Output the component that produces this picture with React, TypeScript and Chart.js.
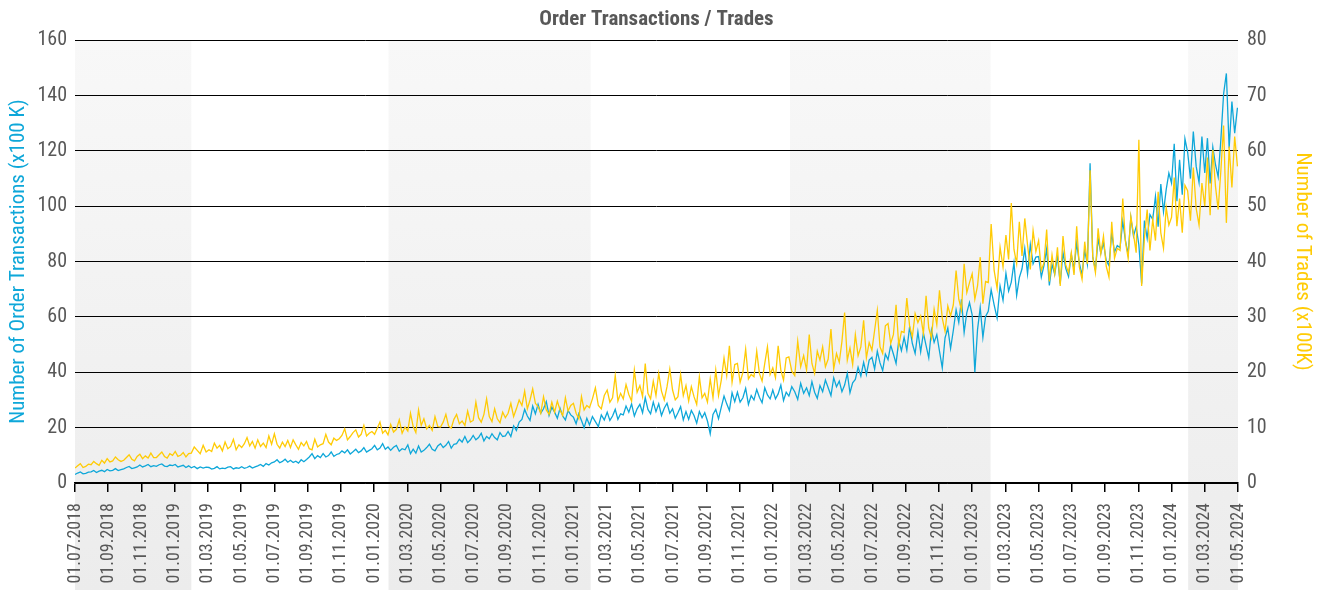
import React, { useEffect, useRef } from "react";
import { Chart, registerables } from "chart.js";

Chart.register(...registerables);

const FONT = "'Roboto Condensed', 'Liberation Sans Narrow', 'DejaVu Sans Condensed', sans-serif";

const START_DATE = "2018-07-01";
const STEP_DAYS = 5;

const X_TICK_LABELS = [
  "01.07.2018", "01.09.2018", "01.11.2018",
  "01.01.2019", "01.03.2019", "01.05.2019", "01.07.2019", "01.09.2019", "01.11.2019",
  "01.01.2020", "01.03.2020", "01.05.2020", "01.07.2020", "01.09.2020", "01.11.2020",
  "01.01.2021", "01.03.2021", "01.05.2021", "01.07.2021", "01.09.2021", "01.11.2021",
  "01.01.2022", "01.03.2022", "01.05.2022", "01.07.2022", "01.09.2022", "01.11.2022",
  "01.01.2023", "01.03.2023", "01.05.2023", "01.07.2023", "01.09.2023", "01.11.2023",
  "01.01.2024", "01.03.2024", "01.05.2024",
];

// Number of Order Transactions (x100 K), every 5 days
const orderTransactions = [
  // 2018 Jul-Dec
  3.1, 3.6, 4.0, 3.3, 3.5, 3.9, 4.0, 4.5, 3.8, 4.3, 4.6, 4.1, 4.9, 4.4, 4.6, 5.2, 4.5, 4.8,
  5.1, 5.6, 6.0, 5.2, 5.5, 5.8, 6.5, 5.8, 6.2, 6.7, 5.9, 6.3, 6.0, 6.6, 6.9, 6.1, 5.9, 6.5, 6.3,
  // 2019
  6.7, 5.8, 6.1, 6.4, 5.6, 6.2, 5.5, 6.0, 5.2, 5.8, 5.4, 5.7, 5.6, 5.0, 5.3, 5.9, 5.1, 5.4,
  5.2, 5.7, 5.9, 5.1, 5.5, 5.3, 5.9, 5.3, 5.6, 6.1, 5.4, 5.8, 6.2, 6.7, 6.0, 7.0, 6.5, 7.3,
  7.6, 8.4, 7.3, 7.8, 8.6, 7.5, 8.2, 7.4, 7.9, 7.2, 8.4, 7.7, 8.5, 9.4, 10.6, 8.8, 9.9, 9.2,
  10.6, 9.4, 9.9, 11.2, 9.6, 10.3, 10.6, 11.6, 10.9, 12.0, 10.5, 11.3, 12.2, 11.0, 11.6, 12.8, 11.2, 11.8, 12.4,
  // 2020
  13.6, 12.0, 12.6, 14.2, 12.2, 13.0, 11.8, 12.9, 13.6, 11.5, 12.4, 12.0, 13.8, 10.6, 12.2, 10.8, 13.4, 11.2,
  11.8, 12.8, 14.0, 12.2, 11.6, 13.4, 14.2, 12.8, 13.6, 15.0, 12.6, 14.0, 14.2, 15.8, 14.8, 16.8, 14.6, 15.6,
  17.2, 15.6, 16.4, 18.0, 15.2, 16.8, 16.0, 17.8, 16.4, 15.6, 18.2, 16.8, 17.0, 18.6, 16.8, 20.6, 19.0, 22.0,
  23.0, 26.6, 24.2, 22.6, 27.8, 25.0, 28.4, 25.2, 26.8, 29.4, 24.4, 27.4, 25.6, 23.4, 27.0, 24.2, 22.8, 26.2, 24.6,
  // 2021
  23.8, 21.4, 25.0, 22.6, 20.0, 23.4, 21.0, 24.0, 22.2, 20.4, 24.6, 22.8, 25.6, 22.6, 24.2, 26.6, 23.0, 25.0,
  24.6, 27.8, 25.6, 28.6, 24.2, 26.8, 28.4, 25.4, 30.8, 26.6, 25.0, 29.2, 25.8, 28.6, 24.4, 27.0, 28.8, 25.2,
  26.8, 23.4, 25.4, 27.6, 22.8, 25.8, 23.0, 26.2, 24.4, 21.6, 25.8, 23.6, 25.4, 22.4, 17.8, 24.8, 26.6, 23.2,
  27.4, 31.4, 28.6, 26.2, 32.6, 29.4, 32.8, 29.2, 30.8, 34.2, 28.4, 31.6, 30.0, 33.8, 31.0, 29.0, 34.4, 31.8, 30.4,
  // 2022
  33.6, 30.4, 32.2, 35.4, 29.8, 32.8, 31.4, 34.8, 33.0, 30.2, 36.0, 32.4, 34.4, 31.6, 36.6, 32.8, 30.6, 35.2,
  33.0, 37.2, 34.4, 31.6, 38.0, 34.8, 36.8, 33.0, 35.4, 39.6, 32.6, 36.2, 37.4, 41.8, 38.6, 43.6, 39.2, 44.4,
  45.4, 41.2, 47.6, 43.4, 40.6, 46.6, 44.6, 49.8, 46.6, 43.2, 51.4, 47.8, 52.6, 48.0, 56.4, 50.4, 46.8, 54.6,
  47.4, 54.2, 49.6, 45.2, 55.2, 50.8, 53.6, 47.6, 41.6, 52.4, 56.0, 48.6, 55.2, 62.6, 58.0, 66.4, 54.4, 61.6, 65.2,
  // 2023
  60.8, 40.0, 55.4, 63.4, 52.6, 60.2, 62.0, 69.8, 64.4, 59.6, 71.2, 66.0, 75.8, 69.4, 72.6, 79.6, 67.8, 74.2,
  77.4, 84.8, 75.6, 86.2, 79.2, 81.6, 81.8, 74.4, 78.6, 84.6, 71.4, 79.0, 75.4, 81.8, 72.0, 83.2, 77.6, 74.6,
  82.6, 77.2, 86.8, 79.4, 75.2, 84.0, 79.0, 115.5, 81.6, 77.0, 88.4, 83.0, 86.8, 80.4, 78.6, 90.4, 83.4, 85.8,
  85.0, 94.6, 87.6, 82.6, 96.0, 89.2, 92.6, 86.0, 72.0, 94.8, 88.4, 97.0, 95.2, 103.6, 92.6, 108.0, 98.0, 106.0, 112.0,
  // 2024 Jan-Apr
  108.4, 122.6, 101.8, 116.8, 104.2, 124.4, 119.6, 110.0, 127.0, 114.4, 108.6, 125.2,
  112.0, 124.6, 108.2, 121.4, 115.0, 110.6, 124.0, 140.6, 148.0, 121.0, 137.8, 126.4, 135.6,
];

// Number of Trades (x100K), every 5 days
const trades = [
  // 2018 Jul-Dec
  2.7, 3.1, 3.5, 2.8, 3.0, 3.4, 3.3, 3.9, 3.5, 3.2, 4.1, 3.6, 4.4, 3.8, 4.0, 4.7, 4.2, 3.9,
  4.1, 4.6, 5.1, 4.3, 4.0, 4.8, 5.2, 4.4, 4.9, 4.5, 5.4, 4.6, 4.6, 5.1, 5.6, 4.8, 4.5, 5.3, 5.0,
  // 2019
  5.7, 4.8, 5.0, 5.5, 4.7, 5.3, 5.4, 6.5, 5.9, 5.3, 6.8, 5.6, 6.0, 5.7, 7.2, 6.3, 6.8, 5.8,
  7.4, 6.2, 6.6, 7.9, 6.0, 6.9, 6.4, 7.1, 8.2, 6.7, 7.5, 6.3, 7.8, 6.6, 7.2, 6.4, 8.5, 7.0,
  8.9, 7.0, 6.3, 7.4, 6.6, 7.7, 6.4, 7.8, 6.9, 6.1, 7.3, 6.7, 7.5, 6.2, 6.0, 7.9, 6.5, 6.9,
  7.1, 8.8, 7.4, 6.9, 8.1, 7.7, 8.0, 8.6, 9.8, 7.8, 8.4, 9.1, 9.6, 8.3, 8.8, 10.4, 8.5, 9.0, 9.3,
  // 2020
  8.8, 9.9, 11.0, 9.0, 9.5, 8.7, 10.6, 9.2, 9.7, 11.4, 9.0, 10.1, 9.4, 12.6, 10.2, 9.1, 13.2, 10.4,
  11.6, 9.8, 10.4, 9.5, 12.0, 10.2, 10.1, 11.0, 12.4, 10.3, 9.9, 11.5, 12.4, 10.7, 11.2, 10.4, 13.0, 11.0,
  11.3, 14.6, 11.8, 11.0, 12.4, 15.2, 12.0, 11.1, 13.4, 11.6, 10.9, 12.8, 11.8, 12.6, 14.4, 12.0, 13.4, 15.0,
  14.0, 16.6, 13.4, 15.0, 17.0, 14.4, 13.8, 12.6, 15.6, 13.2, 12.4, 14.6, 12.8, 14.8, 13.2, 12.2, 15.4, 13.0, 14.0,
  // 2021
  14.4, 12.6, 11.6, 15.6, 13.2, 14.0, 13.6, 15.2, 17.2, 14.0, 13.4, 15.8, 16.8, 14.6, 15.4, 19.4, 14.8, 16.2,
  15.2, 17.8, 16.0, 14.8, 20.4, 16.4, 17.6, 15.6, 21.6, 16.2, 15.2, 18.4, 15.8, 19.8, 16.6, 15.0, 17.4, 20.6,
  16.8, 15.0, 15.6, 19.6, 15.8, 17.6, 14.8, 17.4, 15.6, 14.2, 19.2, 15.4, 16.2, 14.6, 18.8, 15.4, 20.4, 15.8,
  18.6, 22.6, 19.4, 24.8, 18.2, 21.4, 21.6, 18.2, 20.0, 24.2, 18.8, 19.6, 19.2, 23.8, 19.8, 18.4, 21.6, 24.6, 19.6,
  // 2022
  20.8, 19.0, 24.8, 20.4, 18.6, 22.6, 22.8, 20.2, 19.4, 25.6, 21.0, 23.0, 20.4, 26.8, 21.6, 19.8, 23.8, 22.2,
  24.6, 21.0, 22.4, 27.8, 20.6, 23.4, 21.8, 25.6, 30.8, 22.2, 24.4, 21.4, 26.8, 23.0, 24.6, 29.4, 22.6, 25.4,
  24.0, 27.6, 31.2, 24.6, 23.4, 28.4, 28.8, 25.2, 26.8, 32.2, 24.8, 27.4, 27.2, 33.4, 28.4, 26.4, 30.6, 29.0,
  30.2, 27.0, 33.8, 28.0, 26.2, 31.4, 28.6, 34.8, 29.8, 27.4, 32.0, 30.2, 32.2, 38.4, 33.2, 31.2, 39.6, 34.4, 36.2,
  // 2023
  37.8, 33.2, 35.6, 40.8, 32.4, 36.4, 36.2, 46.8, 38.4, 35.2, 42.6, 39.0, 44.8, 40.4, 50.6, 42.2, 39.6, 47.2,
  41.0, 47.8, 43.0, 38.6, 45.6, 41.8, 43.8, 38.4, 39.8, 45.8, 36.4, 41.2, 37.8, 42.6, 35.6, 44.6, 39.4, 38.0,
  41.6, 37.6, 46.4, 39.0, 36.8, 43.6, 39.6, 56.5, 40.8, 38.0, 46.0, 41.4, 44.6, 39.2, 37.2, 47.2, 40.6, 42.4,
  42.0, 51.4, 43.6, 40.6, 48.2, 45.0, 41.6, 62.0, 35.6, 44.2, 49.4, 42.0, 47.6, 43.8, 52.6, 45.2, 42.4, 49.8, 46.6,
  // 2024 Jan-Apr
  48.0, 55.2, 46.4, 51.4, 45.2, 53.8, 52.8, 47.4, 57.0, 49.6, 46.6, 54.2,
  50.0, 58.8, 48.4, 60.2, 53.6, 49.4, 56.4, 64.6, 47.0, 60.8, 53.4, 62.6, 57.2,
];

const SHADED_START = ["2018-07-01", "2020-01-28", "2022-02-02", "2024-02-01"];
const SHADED_END = ["2019-02-01", "2021-02-02", "2023-02-04", "2024-05-01"];

const BLUE = "#0ea7d9";
const YELLOW = "#ffcb05";
const TEXT = "#585858";

function parseDate(s: string): Date {
  const [y, m, d] = s.split("-").map(Number);
  return new Date(Date.UTC(y, m - 1, d));
}

// position in "months since July 2018"
function monthPos(dt: Date): number {
  const y = dt.getUTCFullYear();
  const m = dt.getUTCMonth();
  const d = dt.getUTCDate();
  const dim = new Date(Date.UTC(y, m + 1, 0)).getUTCDate();
  return (y - 2018) * 12 + (m - 6) + (d - 1) / dim;
}

function seriesPoints(values: number[]) {
  const start = parseDate(START_DATE).getTime();
  return values.map((v, i) => ({
    x: monthPos(new Date(start + i * STEP_DAYS * 86400000)),
    y: v,
  }));
}

function labelToPos(label: string): number {
  const [d, m, y] = label.split(".").map(Number);
  return monthPos(new Date(Date.UTC(y, m - 1, d)));
}

const bandsPlugin = {
  id: "bands",
  beforeDraw(chart: any) {
    const { ctx, chartArea, scales } = chart;
    const x = scales.x;
    const bottom = chart.height;
    const grad = ctx.createLinearGradient(0, chartArea.top, 0, bottom);
    grad.addColorStop(0, "#f8f8f8");
    grad.addColorStop(1, "#ececec");
    ctx.save();
    ctx.fillStyle = grad;
    SHADED_START.forEach((s, i) => {
      const x1 = x.getPixelForValue(monthPos(parseDate(s)));
      const x2 = x.getPixelForValue(monthPos(parseDate(SHADED_END[i])));
      ctx.fillRect(x1, chartArea.top, x2 - x1, bottom - chartArea.top);
    });
    ctx.restore();
  },
};

export default function App() {
  const ref = useRef<HTMLCanvasElement | null>(null);

  useEffect(() => {
    if (!ref.current) return;
    const tickValues = X_TICK_LABELS.map(labelToPos);
    const chart = new Chart(ref.current, {
      type: "line",
      data: {
        datasets: [
          {
            label: "Trades",
            data: seriesPoints(trades),
            yAxisID: "yR",
            borderColor: YELLOW,
            borderWidth: 1.3,
            pointRadius: 0,
            tension: 0,
            fill: false,
          },
          {
            label: "Order Transactions",
            data: seriesPoints(orderTransactions),
            yAxisID: "yL",
            borderColor: BLUE,
            borderWidth: 1.3,
            pointRadius: 0,
            tension: 0,
            fill: false,
          },
        ],
      },
      options: {
        animation: false,
        responsive: false,
        devicePixelRatio: 1,
        parsing: false,
        normalized: true,
        layout: { padding: { left: 0, right: 0, top: 0, bottom: 0 } },
        plugins: {
          legend: { display: false },
          tooltip: { enabled: false },
          title: {
            display: true,
            text: "Order Transactions / Trades",
            color: TEXT,
            fullSize: false,
            font: { family: FONT, size: 21, weight: "bold" },
            padding: { top: 7, bottom: 8 },
          },
        },
        scales: {
          x: {
            type: "linear",
            min: tickValues[0],
            max: tickValues[tickValues.length - 1],
            afterBuildTicks: (s: any) => {
              s.ticks = tickValues.map((v) => ({ value: v }));
            },
            afterFit: (s: any) => {
              s.height = 107;
            },
            ticks: {
              autoSkip: false,
              minRotation: 90,
              maxRotation: 90,
              color: TEXT,
              padding: 11,
              font: { family: FONT, size: 18 },
              callback: (_v: any, i: number) => X_TICK_LABELS[i],
            },
            grid: {
              drawOnChartArea: false,
              drawTicks: true,
              tickLength: 9,
              color: "#000",
              lineWidth: 1.5,
            },
            border: { display: true, color: "#000", width: 1.5 },
          },
          yL: {
            type: "linear",
            position: "left",
            min: 0,
            max: 160,
            afterFit: (s: any) => {
              s.width = 75;
            },
            ticks: {
              stepSize: 20,
              color: TEXT,
              padding: 8,
              font: { family: FONT, size: 20 },
            },
            grid: { color: "#000", lineWidth: 1, drawTicks: false },
            border: { display: false },
            title: {
              display: true,
              text: "Number of Order Transactions (x100 K)",
              color: BLUE,
              font: { family: FONT, size: 21 },
              padding: { top: 6, bottom: 0 },
            },
          },
          yR: {
            type: "linear",
            position: "right",
            min: 0,
            max: 80,
            afterFit: (s: any) => {
              s.width = 89;
            },
            ticks: {
              stepSize: 10,
              color: TEXT,
              padding: 9,
              font: { family: FONT, size: 20 },
            },
            grid: { drawOnChartArea: false, drawTicks: false },
            border: { display: false },
            title: {
              display: true,
              text: "Number of Trades (x100K)",
              color: YELLOW,
              font: { family: FONT, size: 21 },
              padding: { top: 12, bottom: 0 },
            },
          },
        },
      },
      plugins: [bandsPlugin],
    } as any);
    return () => chart.destroy();
  }, []);

  return (
    <div style={{ position: "absolute", left: 0, top: 0, width: 1327, height: 590, background: "#fff" }}>
      <canvas ref={ref} width={1327} height={590} style={{ display: "block", width: 1327, height: 590 }} />
    </div>
  );
}
